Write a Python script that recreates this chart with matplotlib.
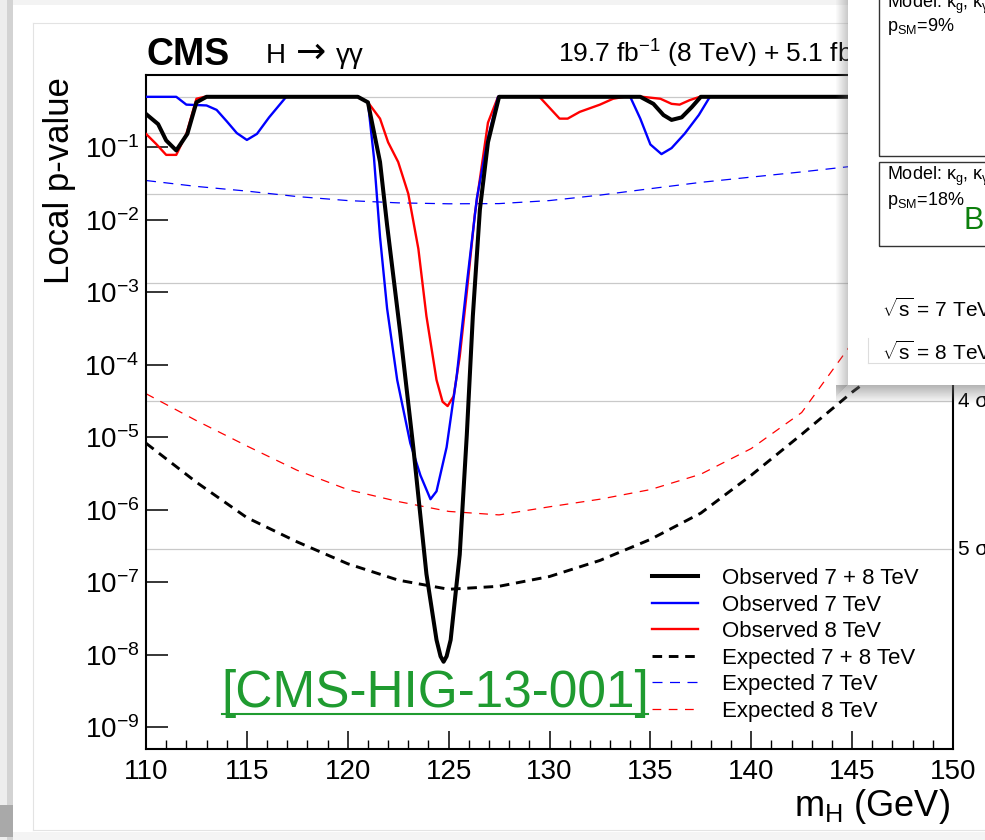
import matplotlib
matplotlib.use('Agg')
import matplotlib.pyplot as plt
from matplotlib.patches import Rectangle
from matplotlib.lines import Line2D
from matplotlib.ticker import FixedLocator, FixedFormatter, LogLocator, NullFormatter
import numpy as np

plt.rcParams['font.family'] = ['Liberation Sans', 'DejaVu Sans']
plt.rcParams['mathtext.fontset'] = 'custom'
plt.rcParams['mathtext.rm'] = 'Liberation Sans'
plt.rcParams['mathtext.it'] = 'Liberation Sans:italic'
plt.rcParams['mathtext.bf'] = 'Liberation Sans:bold'

# ---------------- data ----------------
mass_obs78 = [110.0, 110.6, 111.0, 111.5, 112.05, 112.5, 113.0, 120.5, 121.0, 121.6, 121.95,
              122.6, 123.25, 123.9, 124.4, 124.6, 124.75, 124.9, 125.1, 125.55, 125.9, 126.2,
              126.55, 126.95, 127.5, 134.5, 135.15, 135.65, 136.05, 136.55, 137.05, 137.5, 150.0]
p_obs78 = [0.29, 0.21, 0.125, 0.091, 0.154, 0.42, 0.5, 0.5, 0.42, 0.063, 8.5e-3,
           2.8e-4, 7.2e-6, 1.3e-7, 1.6e-8, 9.5e-9, 8e-9, 9.5e-9, 1.6e-8, 2.4e-7, 1.07e-5, 4.7e-4,
           0.0139, 0.118, 0.5, 0.5, 0.4, 0.28, 0.24, 0.26, 0.36, 0.5, 0.5]

mass_obs7 = [110.0, 111.5, 112.0, 113.0, 113.5, 114.0, 114.5, 115.0, 115.5, 116.1, 116.95,
             120.5, 121.0, 121.3, 121.6, 121.95, 122.45, 123.1, 123.6, 124.1, 124.4,
             124.9, 125.4, 125.9, 126.4, 126.95, 127.45,
             134.0, 134.5, 135.0, 135.55, 136.05, 136.7, 137.4, 137.95, 150.0]
p_obs7 = [0.5, 0.5, 0.39, 0.38, 0.33, 0.23, 0.158, 0.127, 0.154, 0.26, 0.5,
          0.5, 0.42, 0.072, 5.8e-3, 6e-4, 6.2e-5, 8.3e-6, 3e-6, 1.4e-6, 1.8e-6,
          7.3e-6, 7e-5, 1.3e-3, 0.02, 0.134, 0.5,
          0.5, 0.25, 0.11, 0.081, 0.098, 0.155, 0.28, 0.5, 0.5]

mass_obs8 = [110.0, 110.5, 111.0, 111.5, 112.0, 112.5, 112.9,
             120.5, 121.0, 121.6, 122.0, 122.5, 123.0, 123.5, 123.9, 124.4, 124.7,
             124.95, 125.25, 125.55, 125.9, 126.3, 126.7, 126.95, 127.45,
             129.5, 130.5, 130.9, 131.5, 132.5, 133.15, 133.7,
             134.6, 135.5, 136.05, 136.45, 136.95, 137.45, 150.0]
p_obs8 = [0.154, 0.112, 0.079, 0.079, 0.154, 0.47, 0.5,
          0.5, 0.42, 0.25, 0.118, 0.063, 0.023, 4e-3, 4.7e-4, 6.2e-5, 3.1e-5,
          2.7e-5, 3.7e-5, 1.3e-4, 1e-3, 0.012, 0.072, 0.22, 0.5,
          0.5, 0.25, 0.25, 0.31, 0.39, 0.47, 0.5,
          0.5, 0.47, 0.4, 0.39, 0.45, 0.5, 0.5]

mass_exp = [110, 112.5, 115, 117.5, 120, 122.5, 125, 127.5, 130, 132.5, 135, 137.5,
            140, 142.5, 145, 147.5, 150]
p_exp78 = [8.3e-6, 2.4e-6, 7.8e-7, 3.6e-7, 1.8e-7, 1.07e-7, 8e-8, 8.8e-8, 1.2e-7, 2e-7,
           3.9e-7, 9e-7, 3e-6, 1.1e-5, 4.2e-5, 1.4e-4, 4e-4]
p_exp7 = [0.035, 0.029, 0.025, 0.021, 0.0185, 0.0172, 0.0167, 0.0168, 0.0185, 0.022,
          0.027, 0.033, 0.039, 0.046, 0.055, 0.066, 0.08]
p_exp8 = [4e-5, 1.7e-5, 7.6e-6, 3.5e-6, 1.9e-6, 1.3e-6, 9.5e-7, 8.5e-7, 1.1e-6, 1.4e-6,
          1.9e-6, 3.1e-6, 7e-6, 2.2e-5, 2e-4, 1e-3, 3e-3]

labels = ['Observed 7 + 8 TeV', 'Observed 7 TeV', 'Observed 8 TeV',
          'Expected 7 + 8 TeV', 'Expected 7 TeV', 'Expected 8 TeV']

sigma_names = ['0 σ', '1 σ', '2 σ', '3 σ', '4 σ', '5 σ']
sigma_p = [0.5, 0.1587, 0.02275, 1.35e-3, 3.17e-5, 2.87e-7]

x_ticks = [110, 115, 120, 125, 130, 135, 140, 145, 150]
y_ticks = [1e-9, 1e-8, 1e-7, 1e-6, 1e-5, 1e-4, 1e-3, 1e-2, 1e-1]
y_tick_labels = ['$10^{-9}$', '$10^{-8}$', '$10^{-7}$', '$10^{-6}$', '$10^{-5}$',
                 '$10^{-4}$', '$10^{-3}$', '$10^{-2}$', '$10^{-1}$']

# ---------------- figure ----------------
W, H = 985, 840
fig = plt.figure(figsize=(9.85, 8.4), dpi=100)
fig.patch.set_facecolor('white')


def fx(px):
    return px / W


def fy(py):
    return 1 - py / H


def frect(x0, y0, x1, y1, **kw):
    r = Rectangle((x0 / W, 1 - y1 / H), (x1 - x0) / W, (y1 - y0) / H,
                  transform=fig.transFigure, **kw)
    fig.add_artist(r)
    return r


def fline(xs, ys, **kw):
    fig.add_artist(Line2D([fx(v) for v in xs], [fy(v) for v in ys],
                          transform=fig.transFigure, **kw))


ax = fig.add_axes([fx(146), fy(749), (953 - 146) / W, (749 - 75) / H])
ax.set_yscale('log')
ax.set_xlim(110, 150)
ax.set_ylim(5e-10, 1.0)

for p in sigma_p:
    ax.axhline(p, color='#c9c9c9', lw=0.9, zorder=0.5)
for name, p in zip(sigma_names[1:], sigma_p[1:]):
    ax.text(1.006, p, name, transform=ax.get_yaxis_transform(), fontsize=15,
            va='center', ha='left', clip_on=False)

l_e8, = ax.plot(mass_exp, p_exp8, color='red', lw=0.9, dashes=(7, 6), zorder=2)
l_e7, = ax.plot(mass_exp, p_exp7, color='blue', lw=0.9, dashes=(8, 6), zorder=2)
l_e78, = ax.plot(mass_exp, p_exp78, color='black', lw=2.1, dashes=(3.3, 2.3), zorder=2.5)
l_o8, = ax.plot(mass_obs8, p_obs8, color='red', lw=1.7, zorder=3)
l_o7, = ax.plot(mass_obs7, p_obs7, color='blue', lw=1.7, zorder=3.2)
l_o78, = ax.plot(mass_obs78, p_obs78, color='black', lw=2.9, zorder=3.5)

ax.xaxis.set_major_locator(FixedLocator(x_ticks))
ax.xaxis.set_minor_locator(FixedLocator(np.arange(110, 151, 1)))
ax.yaxis.set_major_locator(FixedLocator(y_ticks))
ax.yaxis.set_major_formatter(FixedFormatter(y_tick_labels))
ax.yaxis.set_minor_locator(LogLocator(base=10, subs=np.arange(2, 10)))
ax.yaxis.set_minor_formatter(NullFormatter())
ax.tick_params(axis='y', which='major', direction='in', length=16, width=1.1,
               labelsize=20, pad=5, right=False)
ax.tick_params(axis='y', which='minor', direction='in', length=8, width=1.0, right=False)
ax.tick_params(axis='x', which='major', direction='in', length=13, width=1.1,
               labelsize=20, pad=7, top=False)
ax.tick_params(axis='x', which='minor', direction='in', length=6.5, width=1.0, top=False)
for s in ax.spines.values():
    s.set_linewidth(1.5)

leg = ax.legend([l_o78, l_o7, l_o8, l_e78, l_e7, l_e8], labels,
                loc='upper left', bbox_to_anchor=(fx(652), fy(568)),
                bbox_transform=fig.transFigure, frameon=False, fontsize=16,
                handlelength=2.08, handletextpad=1.05, labelspacing=0.25,
                borderpad=0, borderaxespad=0)

# titles
fig.text(fx(147), fy(65), 'CMS', fontsize=27, fontweight='bold', va='baseline')
fig.text(fx(266), fy(63), 'H', fontsize=20, va='baseline')
fig.text(fx(296), fy(63), '→', fontsize=26, va='baseline', family='DejaVu Sans')
fig.text(fx(336), fy(63), 'γγ', fontsize=20, va='baseline')
fig.text(fx(558), fy(63), '19.7 fb$^{-1}$ (8 TeV) + 5.1 fb$^{-1}$ (7 TeV)',
         fontsize=19, va='baseline')
fig.text(fx(60), fy(77), 'Local p-value', rotation=90, ha='center', va='top', fontsize=25)
fig.text(fx(950), fy(816), 'm$_{\\mathrm{H}}$ (GeV)', ha='right', va='baseline', fontsize=26)

# link text
green = '#1f9b30'
fig.text(fx(221), fy(707), '[CMS-HIG-13-001]', color=green, fontsize=37, va='baseline')
fline([222, 648], [714, 714], color=green, lw=1.5)

# screenshot border decorations
frect(0, 0, 7, 840, color='#ededed', lw=0, zorder=0.2)
frect(7, 0, 13, 840, color='#d3d3d3', lw=0, zorder=0.2)
frect(13, 0, 985, 5, color='#f3f3f3', lw=0, zorder=0.2)
frect(0, 805, 13, 837, color='#a9a9a9', lw=0, zorder=0.3)
frect(13, 832, 985, 840, color='#f4f4f4', lw=0, zorder=0.2)
fline([33, 33], [23, 830], color='#e3e3e3', lw=0.8, zorder=0.3)
fline([33, 985], [23, 23], color='#e3e3e3', lw=0.8, zorder=0.3)
fline([33, 985], [830, 830], color='#e3e3e3', lw=0.8, zorder=0.3)

# overlay panel with shadow
for k in range(12):
    a = 0.03 * (k + 1)
    frect(836 + k, 0, 837 + k, 396 - k, color='#707070', alpha=a, lw=0, zorder=4)
for k in range(18):
    a = 0.032 * (18 - k)
    frect(836, 385 + k, 985, 386 + k, color='#707070', alpha=a * 0.9, lw=0, zorder=4)
frect(848, 0, 985, 385, color='white', lw=0, zorder=5)
fline([868, 868], [338, 363], color='#dddddd', lw=0.8, zorder=6)
fline([868, 985], [363, 363], color='#dddddd', lw=0.8, zorder=6)
frect(879, -10, 995, 156, facecolor='none', edgecolor='#333333', lw=1.0, zorder=6)
frect(879, 162, 995, 246, facecolor='none', edgecolor='#333333', lw=1.0, zorder=6)
fig.text(fx(887), fy(8), 'Model: κ$_{\\mathrm{g}}$, κ$_{\\mathrm{γ}}$', fontsize=13,
         va='baseline', zorder=7)
fig.text(fx(887), fy(31), 'p$_{\\mathrm{SM}}$=9%', fontsize=13, va='baseline', zorder=7)
fig.text(fx(887), fy(180), 'Model: κ$_{\\mathrm{g}}$, κ$_{\\mathrm{γ}}$', fontsize=13,
         va='baseline', zorder=7)
fig.text(fx(887), fy(205), 'p$_{\\mathrm{SM}}$=18%', fontsize=13, va='baseline', zorder=7)
fig.text(fx(963), fy(229), 'BI', fontsize=22, color='#0c7f0c', va='baseline', zorder=7)
fig.text(fx(882), fy(317), '$\\sqrt{\\mathrm{s}}$ = 7 TeV', fontsize=15, va='baseline', zorder=7)
fig.text(fx(882), fy(360), '$\\sqrt{\\mathrm{s}}$ = 8 TeV', fontsize=15, va='baseline', zorder=7)

fig.savefig('out.png', dpi=100, facecolor='white')
